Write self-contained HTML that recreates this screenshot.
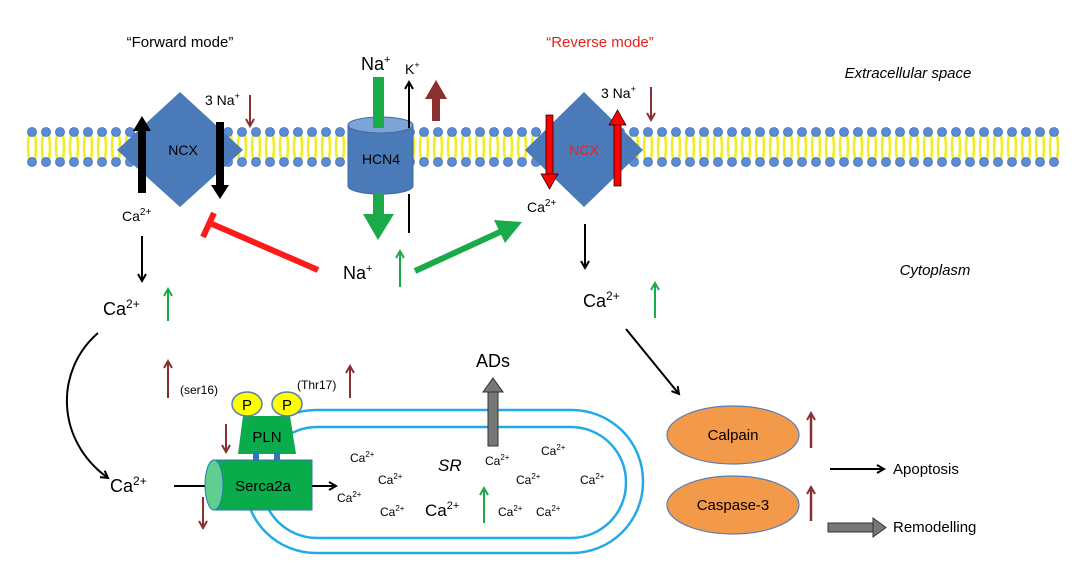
<!DOCTYPE html>
<html><head><meta charset="utf-8"><style>
html,body{margin:0;padding:0;background:#fff;}
svg{display:block;font-family:"Liberation Sans",Arial,sans-serif;}
</style></head><body>
<svg width="1080" height="567" viewBox="0 0 1080 567" xmlns="http://www.w3.org/2000/svg">
<defs>
<pattern id="lip" x="25" y="0" width="14" height="567" patternUnits="userSpaceOnUse">
<path d="M4 135 Q2 147 4 159 M10 135 Q12 147 10 159" stroke="#f2ec1c" stroke-width="2.5" fill="none"/>
<circle cx="7" cy="132" r="4.5" fill="#5b8bd6" stroke="#3e6fb8" stroke-width="0.8"/>
<circle cx="7" cy="162" r="4.5" fill="#5b8bd6" stroke="#3e6fb8" stroke-width="0.8"/>
</pattern>
<marker id="ab" markerWidth="10" markerHeight="10" refX="8" refY="5" orient="auto" markerUnits="userSpaceOnUse"><path d="M1 1 L8 5 L1 9" fill="none" stroke="#000" stroke-width="2"/></marker>
<marker id="ar" markerWidth="10" markerHeight="10" refX="8" refY="5" orient="auto" markerUnits="userSpaceOnUse"><path d="M1 1 L8 5 L1 9" fill="none" stroke="#8b3030" stroke-width="2"/></marker>
<marker id="ag" markerWidth="10" markerHeight="10" refX="8" refY="5" orient="auto" markerUnits="userSpaceOnUse"><path d="M1 1 L8 5 L1 9" fill="none" stroke="#1aaa4a" stroke-width="2"/></marker>
</defs>
<rect x="25" y="120" width="1036" height="50" fill="url(#lip)"/>

<text x="180" y="47" font-size="15" text-anchor="middle">“Forward mode”</text>
<text x="600" y="47" font-size="15" text-anchor="middle" fill="#e8201c">“Reverse mode”</text>
<text x="908" y="78" font-size="15" font-style="italic" text-anchor="middle">Extracellular space</text>
<text x="935" y="275" font-size="15" font-style="italic" text-anchor="middle">Cytoplasm</text>

<!-- left NCX -->
<polygon points="180,92 243,150 180,207 117,150" fill="#4a7ab7"/>
<text x="183" y="155" font-size="14" text-anchor="middle">NCX</text>
<rect x="138" y="130" width="8" height="63" fill="#000"/><polygon points="133,131 142,116 151,131" fill="#000"/>
<rect x="216" y="122" width="8" height="64" fill="#000"/><polygon points="211,185 220,199 229,185" fill="#000"/>
<text x="205" y="105" font-size="14">3 Na<tspan font-size="9" dy="-6">+</tspan></text>
<line x1="250" y1="95" x2="250" y2="126" stroke="#8b3030" stroke-width="2" marker-end="url(#ar)"/>
<text x="122" y="221" font-size="14">Ca<tspan font-size="10" dy="-6">2+</tspan></text>
<line x1="142" y1="236" x2="142" y2="281" stroke="#000" stroke-width="2" marker-end="url(#ab)"/>

<!-- HCN4 -->
<path d="M348 125 L348 186 A32 8 0 0 0 413 186 L413 125 Z" fill="#4a7ab7" stroke="#3e6aa5"/>
<ellipse cx="380.5" cy="125" rx="32.5" ry="8" fill="#7ea3d6" stroke="#3e6aa5"/>
<text x="381" y="164" font-size="14" text-anchor="middle">HCN4</text>
<rect x="373" y="77" width="11" height="51" fill="#1aaa4a"/>
<text x="361" y="70" font-size="18">Na<tspan font-size="11" dy="-7">+</tspan></text>
<text x="405" y="74" font-size="14">K<tspan font-size="9" dy="-6">+</tspan></text>
<line x1="409" y1="128" x2="409" y2="82" stroke="#000" stroke-width="2" marker-end="url(#ab)"/>
<rect x="432" y="96" width="8" height="25" fill="#8b3030"/><polygon points="425,99 436,80 447,99" fill="#8b3030"/>
<rect x="373" y="193" width="11" height="22" fill="#1aaa4a"/><polygon points="363,214 378,240 394,214" fill="#1aaa4a"/>
<line x1="409" y1="194" x2="409" y2="233" stroke="#000" stroke-width="2"/>

<!-- Na+ center -->
<line x1="318" y1="270" x2="212" y2="224" stroke="#ff1a1a" stroke-width="6"/>
<line x1="203" y1="237" x2="214" y2="213" stroke="#ff1a1a" stroke-width="6"/>
<text x="343" y="279" font-size="18">Na<tspan font-size="11" dy="-7">+</tspan></text>
<line x1="400" y1="287" x2="400" y2="251" stroke="#1aaa4a" stroke-width="2" marker-end="url(#ag)"/>
<line x1="415" y1="271" x2="500" y2="232" stroke="#1aaa4a" stroke-width="6"/>
<polygon points="494,220 522,222 505,243" fill="#1aaa4a"/>

<!-- right NCX -->
<polygon points="584,92 643,150 584,207 525,150" fill="#4a7ab7"/>
<text x="584" y="155" font-size="14" text-anchor="middle" fill="#ff1a1a">NCX</text>
<rect x="546" y="115" width="7" height="60" fill="#ff0000" stroke="#000" stroke-width="0.7"/><polygon points="541,174 549.5,189 558,174" fill="#ff0000" stroke="#000" stroke-width="0.7"/>
<rect x="614" y="124" width="7" height="62" fill="#ff0000" stroke="#000" stroke-width="0.7"/><polygon points="609,125 617.5,110 626,125" fill="#ff0000" stroke="#000" stroke-width="0.7"/>
<text x="601" y="98" font-size="14">3 Na<tspan font-size="9" dy="-6">+</tspan></text>
<line x1="651" y1="87" x2="651" y2="120" stroke="#8b3030" stroke-width="2" marker-end="url(#ar)"/>
<text x="527" y="212" font-size="14">Ca<tspan font-size="10" dy="-6">2+</tspan></text>
<line x1="585" y1="224" x2="585" y2="268" stroke="#000" stroke-width="2" marker-end="url(#ab)"/>
<text x="583" y="307" font-size="18">Ca<tspan font-size="12" dy="-7">2+</tspan></text>
<line x1="655" y1="318" x2="655" y2="283" stroke="#1aaa4a" stroke-width="2" marker-end="url(#ag)"/>
<line x1="626" y1="329" x2="679" y2="394" stroke="#000" stroke-width="2" marker-end="url(#ab)"/>

<!-- left Ca -->
<text x="103" y="315" font-size="18">Ca<tspan font-size="12" dy="-7">2+</tspan></text>
<line x1="168" y1="321" x2="168" y2="289" stroke="#1aaa4a" stroke-width="2" marker-end="url(#ag)"/>
<path d="M98 333 C55 370 55 440 108 478" fill="none" stroke="#000" stroke-width="2" marker-end="url(#ab)"/>
<text x="110" y="492" font-size="18">Ca<tspan font-size="12" dy="-7">2+</tspan></text>

<!-- SR -->
<rect x="245" y="410" width="398" height="143" rx="71" fill="none" stroke="#23aae6" stroke-width="2.5"/>
<rect x="262" y="427" width="364" height="111" rx="55" fill="#fff" stroke="#23aae6" stroke-width="2.5"/>
<rect x="228" y="405" width="62" height="60" fill="#fff"/>

<line x1="174" y1="486" x2="215" y2="486" stroke="#000" stroke-width="2"/>
<!-- Serca2a -->
<rect x="214" y="460" width="98" height="50" fill="#0aab4a" stroke="#2e7ab0" stroke-width="1"/>
<ellipse cx="214" cy="485" rx="9" ry="25" fill="#5fcf8f" stroke="#2e7ab0"/>
<text x="263" y="491" font-size="15" text-anchor="middle">Serca2a</text>
<line x1="312" y1="486" x2="336" y2="486" stroke="#000" stroke-width="2" marker-end="url(#ab)"/>
<!-- PLN -->
<polygon points="243,416 290,416 296,454 238,454" fill="#0aab4a"/>
<rect x="253" y="452" width="6" height="9" fill="#2e7ab0"/><rect x="274" y="452" width="6" height="9" fill="#2e7ab0"/>
<text x="267" y="442" font-size="15" text-anchor="middle">PLN</text>
<ellipse cx="247" cy="404" rx="15" ry="12" fill="#ffff00" stroke="#5b7db5" stroke-width="1.5"/>
<ellipse cx="287" cy="404" rx="15" ry="12" fill="#ffff00" stroke="#5b7db5" stroke-width="1.5"/>
<text x="247" y="410" font-size="15" text-anchor="middle">P</text>
<text x="287" y="410" font-size="15" text-anchor="middle">P</text>
<text x="180" y="394" font-size="12">(ser16)</text>
<text x="297" y="389" font-size="12">(Thr17)</text>
<line x1="168" y1="398" x2="168" y2="361" stroke="#8b3030" stroke-width="2" marker-end="url(#ar)"/>
<line x1="350" y1="398" x2="350" y2="366" stroke="#8b3030" stroke-width="2" marker-end="url(#ar)"/>
<line x1="226" y1="424" x2="226" y2="452" stroke="#8b3030" stroke-width="2" marker-end="url(#ar)"/>
<line x1="203" y1="497" x2="203" y2="528" stroke="#8b3030" stroke-width="2" marker-end="url(#ar)"/>

<!-- ADs -->
<text x="493" y="367" font-size="18" text-anchor="middle">ADs</text>
<rect x="488" y="391" width="10" height="55" fill="#777" stroke="#333"/><polygon points="483,392 493,378 503,392" fill="#777" stroke="#333"/>

<g font-size="12">
<text x="350" y="462">Ca<tspan font-size="8" dy="-5">2+</tspan></text>
<text x="378" y="484">Ca<tspan font-size="8" dy="-5">2+</tspan></text>
<text x="337" y="502">Ca<tspan font-size="8" dy="-5">2+</tspan></text>
<text x="380" y="516">Ca<tspan font-size="8" dy="-5">2+</tspan></text>
<text x="485" y="465">Ca<tspan font-size="8" dy="-5">2+</tspan></text>
<text x="541" y="455">Ca<tspan font-size="8" dy="-5">2+</tspan></text>
<text x="516" y="484">Ca<tspan font-size="8" dy="-5">2+</tspan></text>
<text x="580" y="484">Ca<tspan font-size="8" dy="-5">2+</tspan></text>
<text x="498" y="516">Ca<tspan font-size="8" dy="-5">2+</tspan></text>
<text x="536" y="516">Ca<tspan font-size="8" dy="-5">2+</tspan></text>
</g>
<text x="425" y="516" font-size="17">Ca<tspan font-size="11" dy="-7">2+</tspan></text>
<text x="438" y="471" font-size="17" font-style="italic">SR</text>
<line x1="484" y1="523" x2="484" y2="488" stroke="#1aaa4a" stroke-width="2" marker-end="url(#ag)"/>

<!-- right bottom -->
<ellipse cx="733" cy="435" rx="66" ry="29" fill="#f39a4a" stroke="#5a7db5" stroke-width="1.2"/>
<text x="733" y="440" font-size="15" text-anchor="middle">Calpain</text>
<ellipse cx="733" cy="505" rx="66" ry="29" fill="#f39a4a" stroke="#5a7db5" stroke-width="1.2"/>
<text x="733" y="510" font-size="15" text-anchor="middle">Caspase-3</text>
<line x1="811" y1="448" x2="811" y2="413" stroke="#8b3030" stroke-width="2.5" marker-end="url(#ar)"/>
<line x1="811" y1="521" x2="811" y2="487" stroke="#8b3030" stroke-width="2.5" marker-end="url(#ar)"/>
<line x1="830" y1="469" x2="884" y2="469" stroke="#000" stroke-width="2" marker-end="url(#ab)"/>
<text x="893" y="474" font-size="15">Apoptosis</text>
<rect x="828" y="523" width="45" height="9" fill="#777" stroke="#333"/><polygon points="873,518 886,527.5 873,537" fill="#777" stroke="#333"/>
<text x="893" y="532" font-size="15">Remodelling</text>
</svg>
</body></html>
